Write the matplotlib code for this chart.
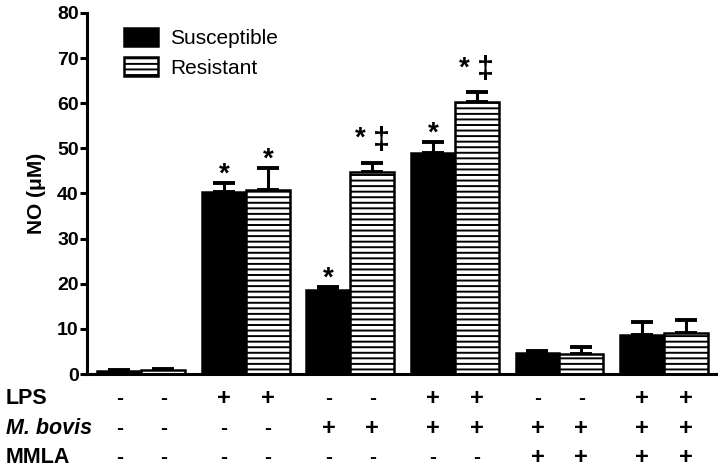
import matplotlib
matplotlib.use("Agg")
import matplotlib.pyplot as plt
import matplotlib.patches as mpatches
import numpy as np

plt.rcParams["font.family"] = ["Liberation Sans", "DejaVu Sans"]
plt.rcParams["hatch.linewidth"] = 1.4

# NO production (uM), mean and upper error
susceptible = [0.6, 40.3, 18.6, 49.0, 4.6, 8.6]
susceptible_err = [0.2, 2.1, 0.6, 2.4, 0.6, 2.9]
resistant = [0.8, 40.8, 44.7, 60.3, 4.4, 9.0]
resistant_err = [0.2, 4.9, 2.1, 2.2, 1.6, 3.0]

lps = ["-", "+", "-", "+", "-", "+"]
mbovis = ["-", "-", "+", "+", "+", "+"]
mmla = ["-", "-", "-", "-", "+", "+"]
row_labels = ["LPS", "M. bovis", "MMLA"]

# significance marks: (group, series, text)
marks = [(1, 0, "*"), (1, 1, "*"), (2, 0, "*"), (2, 1, "*‡"), (3, 0, "*"), (3, 1, "*‡")]

W = 0.42
x = np.arange(len(susceptible))
xs = x - W / 2
xr = x + W / 2

fig = plt.figure(figsize=(7.22, 4.72), dpi=100)
ax = fig.add_axes([0.1205, 0.2076, 0.8715, 0.765])

ax.bar(xs, susceptible, W, color="black", edgecolor="black", linewidth=1.8, zorder=2)
ax.bar(xr, resistant, W, color="white", edgecolor="black", linewidth=1.8,
       hatch="---", zorder=2)

for xp, v, e in [(xs, susceptible, susceptible_err), (xr, resistant, resistant_err)]:
    ax.errorbar(xp, v, yerr=[np.zeros(len(v)), e], fmt="none", ecolor="black",
                elinewidth=2.2, capsize=8, capthick=2.8, zorder=1)

tops_s = np.array(susceptible) + np.array(susceptible_err)
tops_r = np.array(resistant) + np.array(resistant_err)
for g, s, txt in marks:
    xp = xs[g] if s == 0 else xr[g]
    top = tops_s[g] if s == 0 else tops_r[g]
    if txt == "*":
        ax.annotate("*", xy=(xp, top), xytext=(0, 1), textcoords="offset points",
                    ha="center", va="baseline", fontsize=20, fontweight="bold")
    else:
        ax.annotate("*", xy=(xp, top), xytext=(-9, 12), textcoords="offset points",
                    ha="center", va="baseline", fontsize=20, fontweight="bold")
        ax.annotate("‡", xy=(xp, top), xytext=(6.5, 10), textcoords="offset points",
                    ha="center", va="baseline", fontsize=22, fontweight="bold")

ax.set_xlim(-0.52, 5.5)
ax.set_ylim(0, 80)
ax.set_yticks(range(0, 81, 10))
ax.set_xticks([])
for sp in ["top", "right"]:
    ax.spines[sp].set_visible(False)
for sp in ["left", "bottom"]:
    ax.spines[sp].set_linewidth(2.2)
ax.tick_params(axis="y", length=5, width=2.2, pad=1, labelsize=14)
for lab in ax.get_yticklabels():
    lab.set_fontweight("bold")
ax.set_ylabel("NO (μM)", fontsize=15, fontweight="bold", labelpad=8)

# treatment table under the axis
trans = ax.get_xaxis_transform()
row_y = [-0.069, -0.150, -0.230]
for yy, name, signs in zip(row_y, row_labels, [lps, mbovis, mmla]):
    fig.text(0.008, ax.transAxes.transform((0, yy))[1] / fig.bbox.height, name,
             ha="left", va="center", fontsize=15.5, fontweight="bold",
             style="italic" if name == "M. bovis" else "normal")
    for i, sg in enumerate(signs):
        for xp in (xs[i], xr[i]):
            ax.text(xp, yy, sg, transform=trans, ha="center", va="center",
                    fontsize=17 if sg == "+" else 15, fontweight="bold", clip_on=False)

handles = [mpatches.Patch(facecolor="black", edgecolor="black", linewidth=1.8, label="Susceptible"),
           mpatches.Patch(facecolor="white", edgecolor="black", linewidth=1.8, hatch="---",
                          label="Resistant")]
ax.legend(handles=handles, loc="upper left", bbox_to_anchor=(0.036, 1.0), frameon=False,
          fontsize=15, handlelength=1.6, handleheight=1.0, handletextpad=0.6,
          labelspacing=0.45, borderpad=0.2)

fig.savefig("out.png", dpi=100)
